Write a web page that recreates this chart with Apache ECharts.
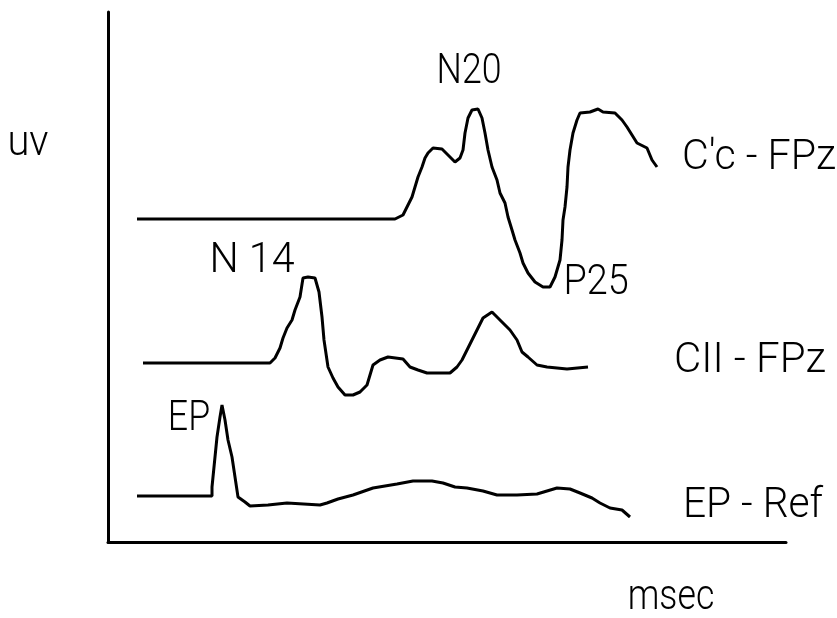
<!DOCTYPE html>
<html>
<head>
<meta charset="utf-8">
<script src="https://cdn.jsdelivr.net/npm/echarts@6/dist/echarts.min.js"></script>
<style>
  html, body { margin: 0; padding: 0; background: #fff; }
  #chart { width: 837px; height: 618px; }
</style>
</head>
<body>
<div id="chart"></div>
<script>
// Evoked potential traces: [time (msec), amplitude (uv, stacked offset)]
const cpcFpz = [
  [2.9, 32.3], [28.7, 32.3], [29.5, 32.7], [29.9, 33.5], [30.4, 34.5], [30.7, 35.5],
  [31.0, 36.5], [31.4, 37.5], [31.7, 38.4], [32.0, 38.9], [32.5, 39.4], [33.4, 39.3],
  [34.2, 38.5], [34.7, 38.0], [35.2, 38.4], [35.5, 39.2], [35.7, 40.9], [36.0, 42.4],
  [36.4, 43.2], [37.0, 43.3], [37.4, 42.4], [37.7, 40.9], [38.0, 39.2], [38.4, 37.5],
  [38.9, 36.2], [39.2, 34.9], [39.7, 33.9], [40.0, 32.5], [40.4, 31.2], [40.7, 30.2],
  [41.2, 28.9], [41.5, 27.9], [42.0, 26.9], [42.7, 26.0], [43.5, 25.5], [44.2, 25.5],
  [44.7, 26.5], [45.2, 28.2], [45.4, 30.2], [45.5, 32.2], [45.7, 33.5], [45.9, 35.5],
  [46.0, 37.5], [46.2, 39.2], [46.5, 40.9], [46.9, 42.2], [47.2, 42.9], [48.2, 43.0],
  [49.0, 43.3], [49.5, 43.0], [50.7, 42.9], [51.4, 42.2], [51.9, 41.5], [52.4, 40.7],
  [52.9, 39.9], [53.9, 39.4], [54.4, 38.2], [54.9, 37.5]
];
const ciiFpz = [
  [3.5, 17.9], [16.2, 17.9], [16.7, 18.4], [17.2, 19.4], [17.5, 20.4], [17.9, 21.4],
  [18.4, 22.2], [18.7, 23.2], [19.2, 24.5], [19.5, 26.4], [20.0, 26.5], [20.7, 26.4],
  [21.1, 25.0], [21.4, 22.5], [21.6, 20.2], [22.0, 17.5], [22.5, 16.4], [23.0, 15.5],
  [23.7, 14.7], [24.5, 14.7], [25.2, 15.0], [25.9, 15.7], [26.2, 16.7], [26.5, 17.7],
  [27.2, 18.2], [28.0, 18.5], [29.5, 18.3], [30.2, 17.5], [31.0, 17.2], [31.9, 16.9],
  [34.2, 16.9], [34.9, 17.5], [35.4, 18.2], [35.9, 19.2], [36.4, 20.2], [36.9, 21.2],
  [37.5, 22.4], [38.4, 23.0], [38.9, 22.5], [39.5, 21.9], [40.2, 21.2], [40.9, 20.2],
  [41.4, 19.0], [42.0, 18.5], [42.9, 17.7], [43.9, 17.5], [45.9, 17.3], [48.0, 17.5]
];
const epRef = [
  [2.9, 4.6], [10.4, 4.6], [10.4, 5.5], [10.7, 8.5], [10.9, 10.5], [11.2, 12.5],
  [11.4, 13.7], [11.7, 12.2], [12.0, 10.2], [12.4, 8.5], [12.7, 6.5], [13.0, 4.5],
  [13.7, 4.0], [14.2, 3.6], [16.0, 3.7], [17.9, 3.9], [21.2, 3.7], [21.9, 3.9],
  [23.0, 4.3], [24.5, 4.7], [26.5, 5.4], [28.9, 5.8], [30.5, 6.1], [32.4, 6.1],
  [33.5, 5.9], [34.7, 5.5], [35.9, 5.4], [37.5, 5.1], [38.9, 4.7], [40.9, 4.7],
  [42.9, 4.8], [43.9, 5.1], [44.9, 5.4], [46.2, 5.3], [47.2, 4.9], [48.4, 4.4],
  [49.2, 3.9], [50.2, 3.4], [51.4, 3.2], [52.2, 2.5]
];

// Trace names and peak annotations
const traceNames = ["C'c - FPz", 'CII - FPz', 'EP - Ref'];
const peakNames = ['N20', 'P25', 'N 14', 'EP'];
const peakPoints = [[37.0, 43.3], [44.2, 25.5], [20.0, 26.5], [11.4, 13.7]];
const axisNames = ['uv', 'msec'];

const FONT = 'Roboto, "Liberation Sans", sans-serif';
const FS = 42;

function trace(name, data) {
  return {
    name: name,
    type: 'line',
    data: data,
    showSymbol: false,
    silent: true,
    animation: false,
    lineStyle: { color: '#000', width: 3 }
  };
}

// Light-weight label, optionally narrowed horizontally about its centre
function text(str, x, y, squeeze) {
  return {
    type: 'text',
    x: x,
    y: y,
    scaleX: squeeze,
    silent: true,
    style: {
      text: str,
      fill: '#000',
      font: '300 ' + FS + 'px ' + FONT,
      align: 'center',
      verticalAlign: 'middle'
    }
  };
}

const chart = echarts.init(document.getElementById('chart'), null, { renderer: 'canvas' });
chart.setOption({
  backgroundColor: '#fff',
  animation: false,
  grid: { left: 108, right: 51, top: 12, bottom: 76 },
  xAxis: {
    type: 'value', min: 0, max: 67.8,
    axisLine: { show: true, lineStyle: { color: '#000', width: 3 } },
    axisTick: { show: false }, axisLabel: { show: false }, splitLine: { show: false }
  },
  yAxis: {
    type: 'value', min: 0, max: 53,
    axisLine: { show: true, lineStyle: { color: '#000', width: 3 } },
    axisTick: { show: false }, axisLabel: { show: false }, splitLine: { show: false }
  },
  series: [
    trace(traceNames[0], cpcFpz),
    trace(traceNames[1], ciiFpz),
    trace(traceNames[2], epRef)
  ]
});

// Peak labels are placed relative to the peak they name
const peakOffsets = [[-9, -36.5], [46, -4], [-56, -15.5], [-33, 14]];
const peakSqueeze = [0.85, 0.9, 0.98, 0.85];
const peakLabels = peakNames.map(function (name, i) {
  const p = chart.convertToPixel({ gridIndex: 0 }, peakPoints[i]);
  return text(name, p[0] + peakOffsets[i][0], p[1] + peakOffsets[i][1], peakSqueeze[i]);
});

chart.setOption({
  graphic: peakLabels.concat([
    text(traceNames[0], 759, 158, 0.98),
    text(traceNames[1], 750, 361, 1),
    text(traceNames[2], 753, 506, 0.97),
    text(axisNames[0], 28, 144, 0.95),
    text(axisNames[1], 671, 598, 0.85)
  ])
});
</script>
</body>
</html>
